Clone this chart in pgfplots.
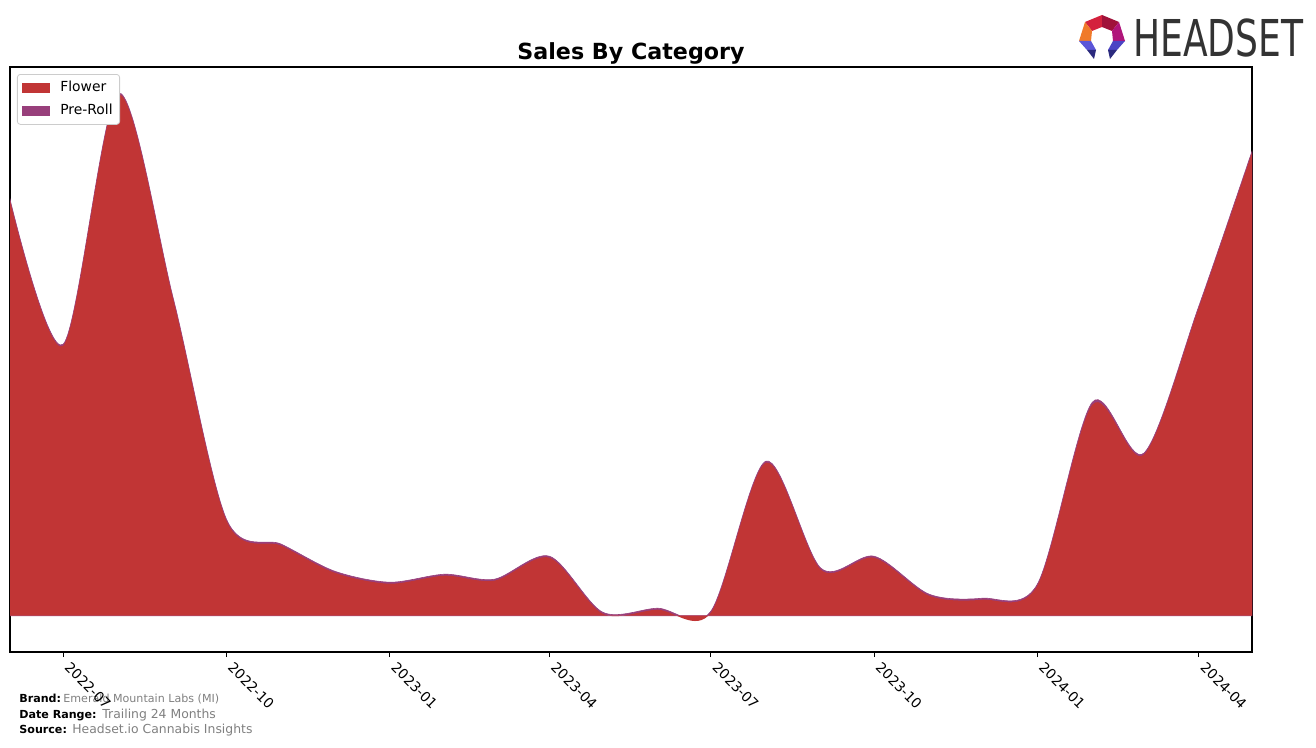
\documentclass[border=0pt]{standalone}
\usepackage{fontspec}
\setmainfont{DejaVu Sans}
\newfontfamily\logofont{DejaVu Sans}
\usepackage{pgfplots}
\pgfplotsset{compat=1.18}
\definecolor{flower}{HTML}{C13535}
\definecolor{preroll}{HTML}{983F7B}
\definecolor{footgray}{HTML}{808080}
\definecolor{logogray}{HTML}{333333}
\definecolor{lgA}{HTML}{D4213D}
\definecolor{lgB}{HTML}{A0123A}
\definecolor{lgC}{HTML}{F07A2A}
\definecolor{lgD}{HTML}{B0157A}
\definecolor{lgE}{HTML}{5B55D8}
\definecolor{lgF}{HTML}{4C44C4}
\definecolor{lgG}{HTML}{2B2A7E}

% days since 2022-07-01, monthly values
\pgfplotstableread{
d flower total
-30 415 416.5
0 270 271.5
31 521 522.5
62 316 317.5
92 95 96.5
123 70 71.5
153 43 44.5
184 32 33.5
215 40 41.5
243 35 36.5
274 58 59.5
304 2 3.5
335 6 7.5
365 3 4.5
396 153 154.5
427 46 47.5
457 58 59.5
488 20 21.5
518 16 17.5
549 30 31.5
580 211 213.5
609 161 162.5
640 308 309.5
670 463 464.5
}\salestable

\begin{document}
\begin{tikzpicture}
\begin{scope}[x=0.5bp,y=-0.5bp,shift={(0,373.5bp)}]
\path (0,0) rectangle (1316,747);
% logo icon
\fill[lgA] (1085,22) -- (1102,15) -- (1102,27) -- (1092,31) -- cycle;
\fill[lgB] (1102,15) -- (1119,22) -- (1112,31) -- (1102,27) -- cycle;
\fill[lgC] (1079,41) -- (1085,22) -- (1092,31) -- (1091,41) -- cycle;
\fill[lgD] (1119,22) -- (1125,41) -- (1113,41) -- (1112,31) -- cycle;
\fill[lgE] (1079,41) -- (1091,41) -- (1096,50) -- (1087,50) -- cycle;
\fill[lgF] (1125,41) -- (1113,41) -- (1108,50) -- (1117,50) -- cycle;
\fill[lgG] (1087,50) -- (1096,50) -- (1094,59) -- cycle;
\fill[lgG] (1117,50) -- (1108,50) -- (1110,59) -- cycle;
\node[anchor=base west, inner sep=0, font=\logofont\fontsize{25.4bp}{26bp}\selectfont, text=logogray, xscale=0.71] at (1133,57) {HEADSET};
% footer
\node[anchor=base west, inner sep=0, font=\bfseries\fontsize{5.55bp}{6bp}\selectfont] at (19,702) {Brand:};
\node[anchor=base west, inner sep=0, font=\fontsize{5.55bp}{6bp}\selectfont, text=footgray] at (63,702) {Emerald Mountain Labs (MI)};
\node[anchor=base west, inner sep=0, font=\bfseries\fontsize{5.55bp}{6bp}\selectfont] at (19,718) {Date Range:};
\node[anchor=base west, inner sep=0, font=\fontsize{6.2bp}{7bp}\selectfont, text=footgray] at (102,718) {Trailing 24 Months};
\node[anchor=base west, inner sep=0, font=\bfseries\fontsize{5.55bp}{6bp}\selectfont] at (19,733) {Source:};
\node[anchor=base west, inner sep=0, font=\fontsize{6.2bp}{7bp}\selectfont, text=footgray] at (72,733) {Headset.io Cannabis Insights};
\end{scope}

\begin{axis}[
  at={(5bp,47.5bp)}, anchor=south west,
  scale only axis, width=621bp, height=292.5bp,
  xmin=-30, xmax=670, ymin=-36.3, ymax=548.7,
  xtick={0,92,184,274,365,457,549,640},
  xticklabels={2022-07,2022-10,2023-01,2023-04,2023-07,2023-10,2024-01,2024-04},
  ytick=\empty,
  xtick pos=lower, tick align=outside, major tick length=2.5bp,
  tick style={line width=0.5bp, black},
  axis line style={line width=0.55bp},
  x tick label style={xshift=4bp, yshift=-0.5bp, rotate=-45, anchor=north west, inner sep=1bp, font=\fontsize{6.94bp}{8bp}\selectfont},
  title={Sales By Category},
  every axis title/.style={at={(0.5,1)}, anchor=base, yshift=3.5bp, font=\bfseries\fontsize{11.1bp}{13bp}\selectfont},
  legend style={at={(0.0056,0.988)}, anchor=north west, draw=black!20, rounded corners=1.5bp, font=\fontsize{6.94bp}{8bp}\selectfont, inner sep=1.5bp, row sep=0.5bp, cells={anchor=west}},
  legend image code/.code={\fill[#1, draw=none, sharp corners] (1bp,-2.5bp) rectangle (15bp,2.5bp); \path[draw=none, fill=none] (0bp,0bp) -- (18bp,0bp);},
  clip=true,
]
\addlegendimage{fill=flower, draw=none}
\addlegendentry{Flower}
\addlegendimage{fill=preroll, draw=none}
\addlegendentry{Pre-Roll}
\addplot[forget plot, smooth, draw=preroll, line width=0.3bp, fill=preroll] table[x=d, y=total] {\salestable} \closedcycle;
\addplot[forget plot, smooth, draw=none, fill=flower] table[x=d, y=flower] {\salestable} \closedcycle;
\end{axis}
\end{tikzpicture}
\end{document}
